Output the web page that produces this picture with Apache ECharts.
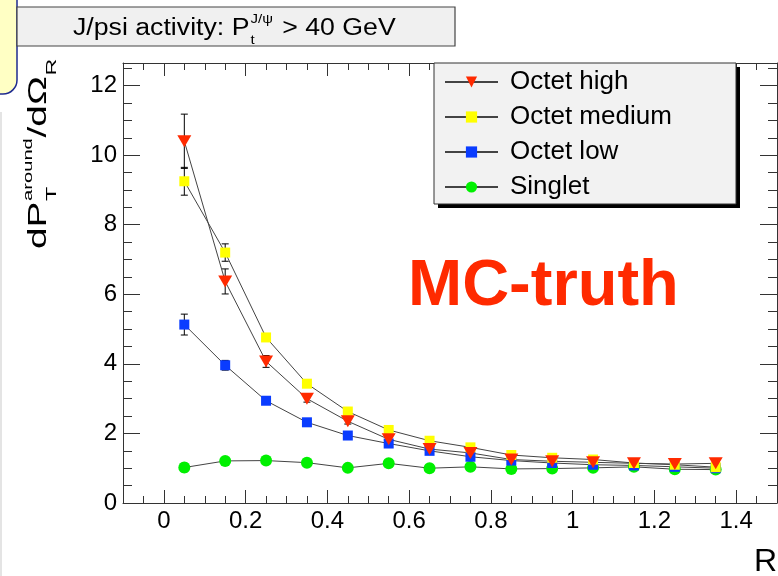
<!DOCTYPE html>
<html><head><meta charset="utf-8">
<script src="https://cdn.jsdelivr.net/npm/echarts@6/dist/echarts.min.js"></script>
<style>html,body{margin:0;padding:0;background:#fff}#c{width:778px;height:576px}</style>
</head><body><div id="c"></div>
<script>
// ---- data ----
const R = [0.05,0.15,0.25,0.35,0.45,0.55,0.65,0.75,0.85,0.95,1.05,1.15,1.25,1.35];
const octetHigh   = [10.4, 6.37, 4.07, 3.0, 2.35, 1.83, 1.55, 1.44, 1.25, 1.2, 1.17, 1.14, 1.12, 1.14];
const octetMedium = [9.25, 7.2, 4.76, 3.43, 2.63, 2.1, 1.79, 1.6, 1.38, 1.3, 1.25, 1.15, 1.1, 1.03];
const octetLow    = [5.13, 3.96, 2.94, 2.32, 1.94, 1.71, 1.5, 1.33, 1.22, 1.15, 1.1, 1.08, 1.04, 1.0];
const singlet     = [1.02, 1.21, 1.22, 1.16, 1.01, 1.14, 1.0, 1.04, 0.98, 0.99, 1.01, 1.04, 0.97, 0.96];
const errHigh     = [0.78, 0.36, 0.17, 0.1, 0.08, 0.06, 0.05, 0.05, 0.04, 0.04, 0.04, 0.04, 0.04, 0.04];
const errMedium   = [0.4, 0.25, 0.1, 0.08, 0.06, 0.05, 0.04, 0.04, 0.03, 0.03, 0.03, 0.03, 0.03, 0.03];
const errLow      = [0.3, 0.14, 0.08, 0.06, 0.05, 0.04, 0.04, 0.03, 0.03, 0.03, 0.03, 0.03, 0.03, 0.03];
const errSinglet  = [0.12, 0.06, 0.05, 0.04, 0.04, 0.04, 0.03, 0.03, 0.03, 0.03, 0.03, 0.03, 0.03, 0.03];
const seriesNames = ['Octet high','Octet medium','Octet low','Singlet'];
const xTickValues = [0, 0.2, 0.4, 0.6, 0.8, 1, 1.2, 1.4];
const yTickValues = [0, 2, 4, 6, 8, 10, 12];

const FONT = '"Liberation Sans", Arial, Helvetica, sans-serif';
const triDown = 'path://M0,0L10,0L5,9Z';

function pts(vals){ return R.map((x,i)=>[x, vals[i]]); }
function errSeries(vals, errs){
  return {
    type:'custom', silent:true, z:1,
    data: R.map((x,i)=>[x, vals[i]-errs[i], vals[i]+errs[i]]),
    encode:{x:0, y:[1,2]},
    renderItem(params, api){
      const x = api.value(0);
      const lo = api.coord([x, api.value(1)]);
      const hi = api.coord([x, api.value(2)]);
      const w = 3.5, st = {stroke:'#000', lineWidth:1};
      return {type:'group', children:[
        {type:'line', shape:{x1:lo[0],y1:lo[1],x2:hi[0],y2:hi[1]}, style:st},
        {type:'line', shape:{x1:lo[0]-w,y1:lo[1],x2:lo[0]+w,y2:lo[1]}, style:st},
        {type:'line', shape:{x1:hi[0]-w,y1:hi[1],x2:hi[0]+w,y2:hi[1]}, style:st}
      ]};
    }
  };
}
function lineSeries(name, vals, symbol, size, color){
  return {
    type:'line', name, data: pts(vals), symbol, symbolSize:size,
    itemStyle:{color, borderWidth:0},
    lineStyle:{color:'#444', width:1},
    emphasis:{disabled:true}, z:2
  };
}
const xFmt = v => { const k = v/0.2; return Math.abs(k-Math.round(k))<1e-6 ? String(+v.toFixed(1)) : ''; };
const yFmt = v => { const k = v/2; return Math.abs(k-Math.round(k))<1e-6 ? String(Math.round(v)) : ''; };

function xAxisCfg(pos, labels){
  return {
    type:'value', position:pos, min:-0.1, max:1.5, splitNumber:8,
    axisLine:{show:true, onZero:false, lineStyle:{color:'#333', width:1}},
    axisTick:{show:true, inside:true, length:13, customValues:xTickValues, lineStyle:{color:'#333'}},
    minorTick:{show:true, splitNumber:4, length:7, lineStyle:{color:'#333'}},
    axisLabel:{show:labels, customValues:xTickValues, formatter:xFmt, color:'#000', fontSize:24, fontFamily:FONT, margin:6},
    splitLine:{show:false}
  };
}
function yAxisCfg(pos, labels){
  return {
    type:'value', position:pos, min:0, max:12.65, interval:2,
    axisLine:{show:true, onZero:false, lineStyle:{color:'#333', width:1}},
    axisTick:{show:true, inside:true, length:17, customValues:yTickValues, lineStyle:{color:'#333'}},
    minorTick:{show:true, splitNumber:4, length:9, lineStyle:{color:'#333'}},
    axisLabel:{show:labels, customValues:yTickValues, formatter:yFmt, color:'#000', fontSize:24, fontFamily:FONT, margin:6},
    splitLine:{show:false}
  };
}

const txt = (x,y,text,fs,extra) => ({type:'text', z:7, x, y, style:Object.assign({text, fontSize:fs, fontFamily:FONT, fill:'#000', align:'left', verticalAlign:'middle'}, extra||{})});

const chart = echarts.init(document.getElementById('c'), null, {renderer:'canvas'});
chart.setOption({
  animation:false,
  backgroundColor:'#fff',
  grid:{left:123, top:63, right:1, bottom:73, containLabel:false},
  xAxis:[xAxisCfg('bottom', true), xAxisCfg('top', false)],
  yAxis:[yAxisCfg('left', true), yAxisCfg('right', false)],
  legend:{
    data:seriesNames, orient:'vertical', left:444, top:69, padding:0,
    itemWidth:53, itemHeight:14, itemGap:9, z:10,
    textStyle:{fontSize:26, color:'#000', fontFamily:FONT, padding:[0,0,0,7]},
    selectedMode:false
  },
  series:[
    errSeries(singlet, errSinglet),
    errSeries(octetLow, errLow),
    errSeries(octetMedium, errMedium),
    errSeries(octetHigh, errHigh),
    lineSeries('Singlet', singlet, 'circle', 12, '#00f000'),
    lineSeries('Octet low', octetLow, 'rect', 10, '#0a3cff'),
    lineSeries('Octet medium', octetMedium, 'rect', 10, '#ffff00'),
    lineSeries('Octet high', octetHigh, triDown, [14,12], '#ff2a00')
  ],
  graphic:[
    {type:'rect', z:5, shape:{x:-20, y:-20, width:37, height:114, r:14}, style:{fill:'#ffffc4', stroke:'#1f2b8f', lineWidth:1.5}},
    {type:'line', z:5, shape:{x1:1, y1:112, x2:1, y2:576}, style:{stroke:'#e4e4e4', lineWidth:2}},
    {type:'rect', z:5, shape:{x:17, y:7, width:438, height:39}, style:{fill:'#f0f0f0', stroke:'#444', lineWidth:1.2}},
    {type:'group', x:73, y:0, scaleX:1.16, children:[
      txt(0, 29, 'J/psi activity: P', 23),
      txt(153, 19, 'J/\u03C8', 13),
      txt(153, 40, 't', 13),
      txt(174, 29, ' > 40 GeV', 23)
    ]},
    {type:'rect', z:5, shape:{x:438, y:67, width:302, height:141}, style:{fill:'#000'}},
    {type:'rect', z:5, shape:{x:434, y:63, width:302, height:141}, style:{fill:'#f2f2f2', stroke:'#333', lineWidth:1}},
    txt(408, 287, 'MC-truth', 65, {fontWeight:'bold', fill:'#ff2a00'}),
    {type:'group', x:48, y:249, rotation:Math.PI/2, scaleX:1.55, children:[
      txt(0, -9, 'dP', 25),
      txt(31, 3.6, 'T', 15),
      txt(31, -19.7, 'around', 13),
      txt(72, -9, '/d\u03A9', 25),
      txt(112, 3.6, 'R', 15)
    ]},
    txt(777, 562, 'R', 32, {align:'right'})
  ]
});
</script>
</body></html>
